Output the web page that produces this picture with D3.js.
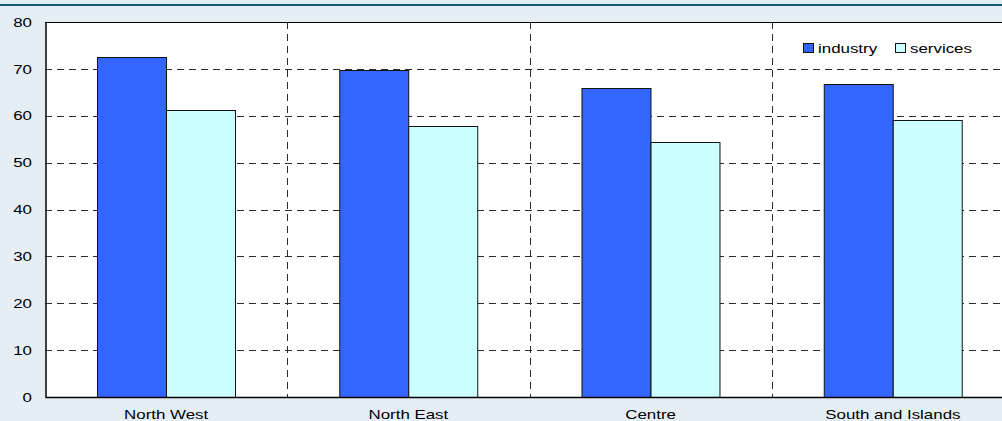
<!DOCTYPE html>
<html>
<head>
<meta charset="utf-8">
<script src="https://cdn.jsdelivr.net/npm/d3@7"></script>
<style>
  html, body { margin: 0; padding: 0; background: #e6eef5; }
  svg { display: block; }
  text { font-family: "Liberation Sans", Arial, sans-serif; fill: #000; }
</style>
</head>
<body>
<svg id="chart" width="1002" height="421"></svg>
<script>
// Regions and the two series plotted for each
const categories = ["North West", "North East", "Centre", "South and Islands"];
const seriesNames = ["industry", "services"];
const industry = [72.5, 69.8, 65.9, 66.8];
const services = [61.2, 57.9, 54.5, 59.1];
const yTicks = [0, 10, 20, 30, 40, 50, 60, 70, 80];

const colors = { industry: "#3366ff", services: "#ccffff" };

const svg = d3.select("#chart");
const W = 1002, H = 421;
const plot = { left: 45, top: 22, right: 1014, bottom: 397 };
const FS = 13;       // label font size
const SX = 1.3;      // horizontal stretch of label glyphs

// Header rule
svg.append("rect").attr("x", 0).attr("y", 4).attr("width", W).attr("height", 2).attr("fill", "#12597c");

const x0 = d3.scaleBand().domain(categories).range([plot.left, plot.right]).padding(0);
const x1 = d3.scaleBand().domain(seriesNames).range([0, x0.bandwidth()]).paddingInner(0).paddingOuter(0.756);
const y = d3.scaleLinear().domain([0, 80]).range([plot.bottom, plot.top]);

// Plot background
svg.append("rect")
  .attr("x", plot.left).attr("y", plot.top)
  .attr("width", plot.right - plot.left).attr("height", plot.bottom - plot.top)
  .attr("fill", "#fff");

// Horizontal dashed gridlines
svg.append("g").selectAll("line")
  .data(yTicks.filter(t => t > 0 && t < 80))
  .join("line")
  .attr("x1", plot.left).attr("x2", plot.right)
  .attr("y1", d => Math.round(y(d)) + 0.5).attr("y2", d => Math.round(y(d)) + 0.5)
  .attr("stroke", "#2a2a2a").attr("stroke-width", 1).attr("stroke-dasharray", "7,5");

// Vertical dashed dividers between regions
svg.append("g").selectAll("line")
  .data(categories.slice(1))
  .join("line")
  .attr("x1", d => Math.round(x0(d)) + 0.5).attr("x2", d => Math.round(x0(d)) + 0.5)
  .attr("y1", plot.top).attr("y2", plot.bottom)
  .attr("stroke", "#2a2a2a").attr("stroke-width", 1).attr("stroke-dasharray", "7,5");

// Top border
svg.append("line")
  .attr("x1", plot.left).attr("x2", plot.right)
  .attr("y1", plot.top + 0.5).attr("y2", plot.top + 0.5)
  .attr("stroke", "#000").attr("stroke-width", 1);

// Bars
const rows = categories.map((c, i) => ({ cat: c, values: [
  { key: "industry", v: industry[i] },
  { key: "services", v: services[i] }
]}));

const groups = svg.append("g").selectAll("g")
  .data(rows).join("g")
  .attr("transform", d => `translate(${x0(d.cat)},0)`);

groups.selectAll("rect")
  .data(d => d.values).join("rect")
  .attr("x", d => Math.round(x1(d.key)) + 0.5)
  .attr("y", d => Math.round(y(d.v)) + 0.5)
  .attr("width", x1.bandwidth())
  .attr("height", d => plot.bottom - Math.round(y(d.v)))
  .attr("fill", d => colors[d.key])
  .attr("stroke", "#111").attr("stroke-width", 1);

// Y axis
const yAxis = svg.append("g")
  .attr("transform", `translate(${plot.left + 0.5},0)`)
  .call(d3.axisLeft(y).tickValues(yTicks).tickSize(0));
yAxis.select(".domain").attr("stroke", "#000").attr("stroke-width", 1.5);
yAxis.selectAll("text")
  .attr("font-size", FS).style("font-family", "Liberation Sans, Arial, sans-serif")
  .attr("x", -13.5 / SX)
  .attr("transform", `scale(${SX},1)`);

// X axis
const xAxis = svg.append("g")
  .attr("transform", `translate(0,${plot.bottom})`)
  .call(d3.axisBottom(x0).tickSize(0).tickPadding(12.5));
xAxis.select(".domain").attr("stroke", "#000").attr("stroke-width", 1.5);
xAxis.selectAll("text")
  .attr("font-size", FS).style("font-family", "Liberation Sans, Arial, sans-serif")
  .attr("transform", `scale(${SX},1)`);

// Legend
const legend = svg.append("g").attr("transform", "translate(803,43)");
const legendX = [0, 92];
seriesNames.forEach((s, i) => {
  const g = legend.append("g").attr("transform", `translate(${legendX[i]},0)`);
  g.append("rect").attr("x", 0.5).attr("y", 0.5).attr("width", 10).attr("height", 9)
    .attr("fill", colors[s]).attr("stroke", "#111").attr("stroke-width", 1);
  g.append("text").attr("x", 15 / SX).attr("y", 10).attr("font-size", FS)
    .attr("transform", `scale(${SX},1)`).text(s);
});
</script>
</body>
</html>
